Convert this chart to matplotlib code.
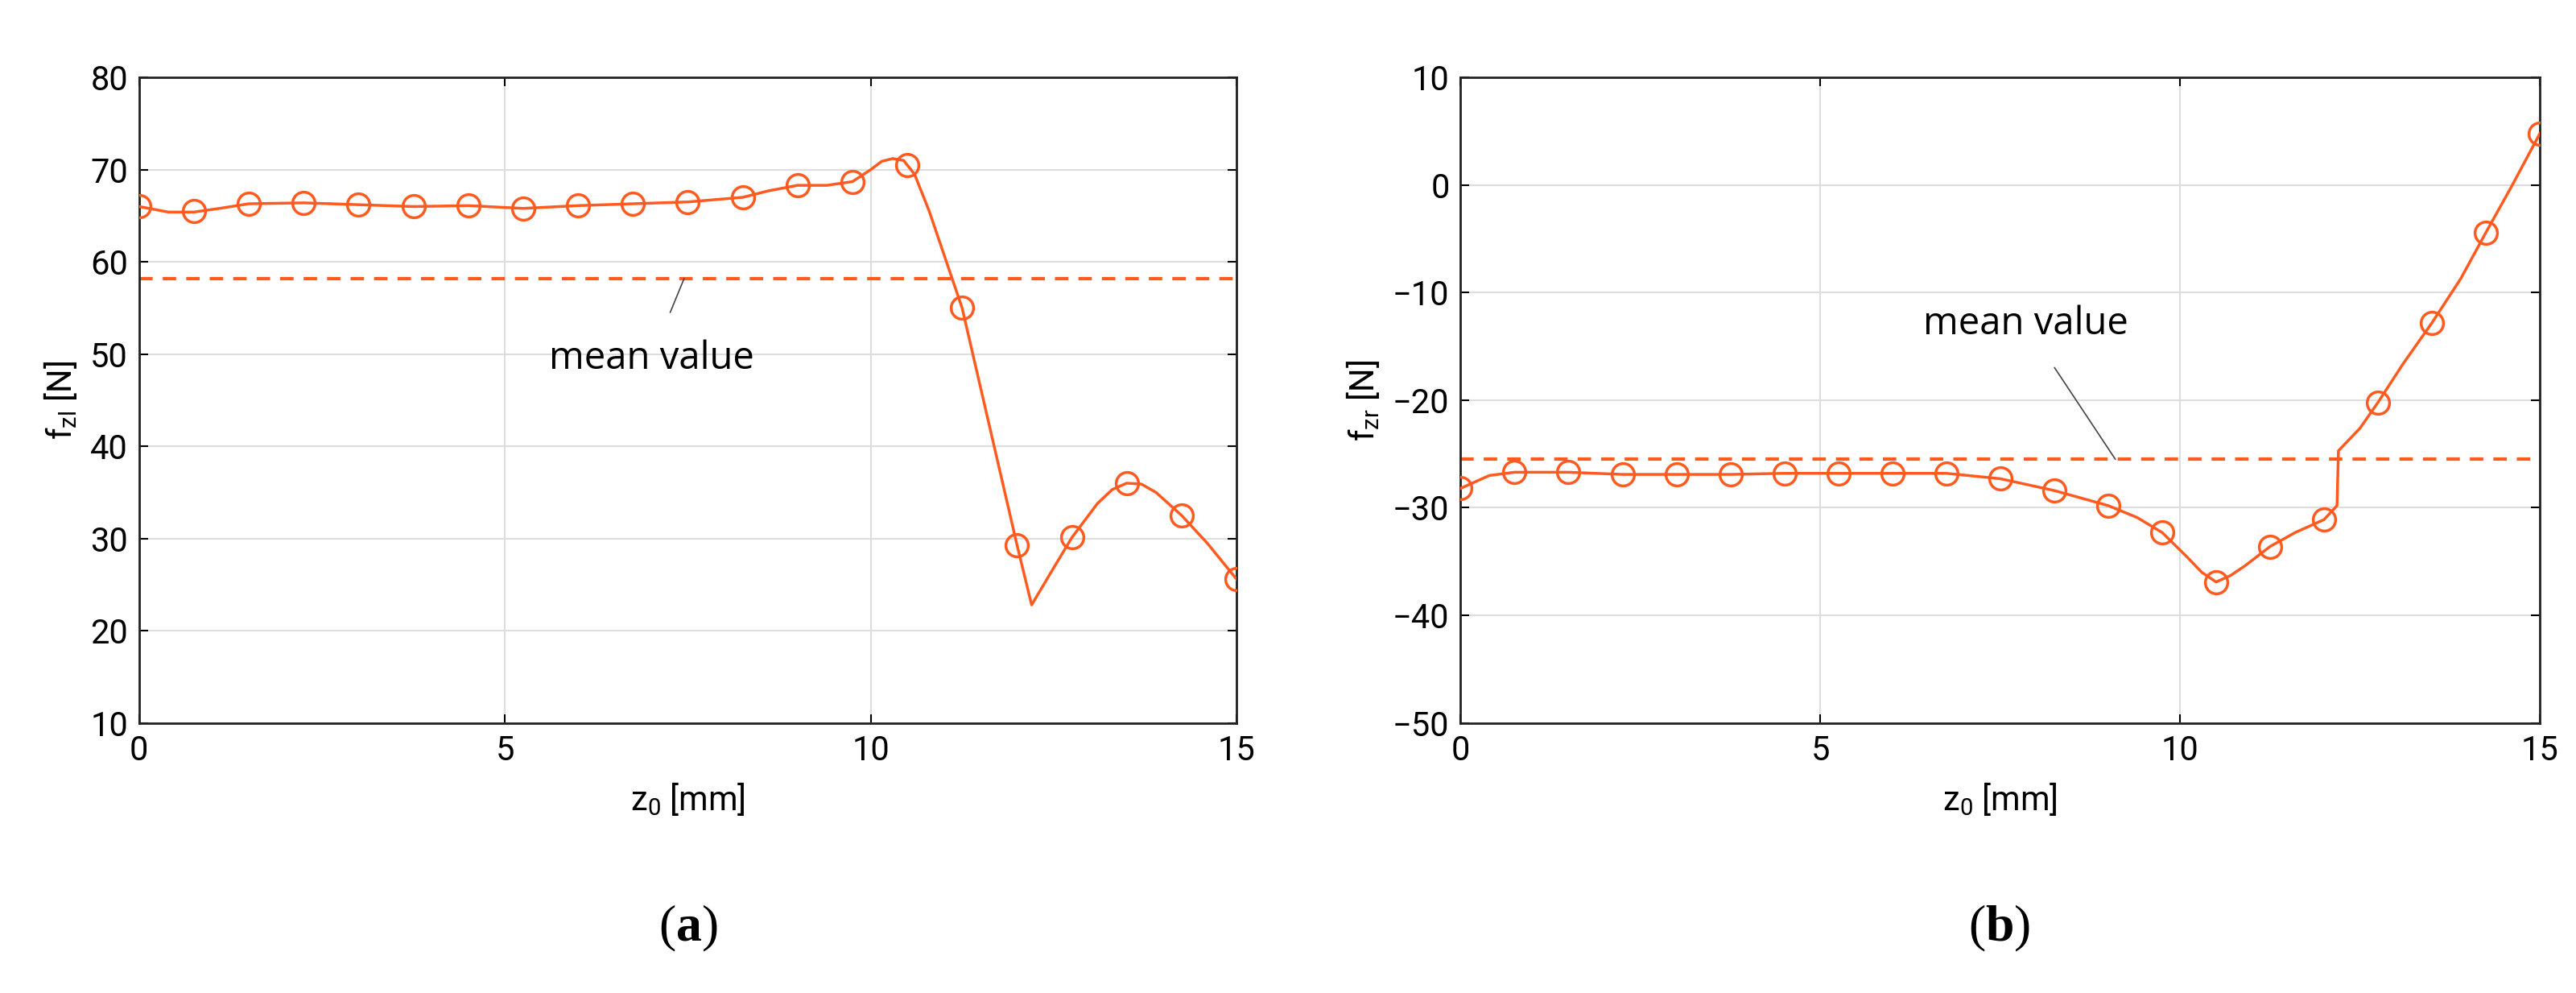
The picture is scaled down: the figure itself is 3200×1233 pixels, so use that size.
import matplotlib
matplotlib.use("Agg")
import matplotlib.pyplot as plt

z = [0, 0.75, 1.5, 2.25, 3, 3.75, 4.5, 5.25, 6, 6.75, 7.5, 8.25, 9, 9.75, 10.5, 11.25, 12, 12.75, 13.5, 14.25, 15]
fzl = [66, 65.5, 66.3, 66.4, 66.2, 66, 66.1, 65.8, 66.1, 66.3, 66.5, 67, 68.3, 68.7, 70.5, 55, 29.3, 30.1, 36, 32.5, 25.6]
fzr = [-28.2, -26.7, -26.7, -26.9, -26.9, -26.9, -26.8, -26.8, -26.8, -26.8, -27.3, -28.4, -29.8, -32.3, -36.9, -33.6, -31.1, -20.2, -12.8, -4.4, 4.8]
# curve
cl_x = [0, 0.4, 0.75, 1.1, 1.5, 2.25, 3, 3.75, 4.5, 5.25, 6, 6.75, 7.5, 8.25, 8.6, 9, 9.4, 9.75, 10.0, 10.15, 10.3, 10.45, 10.6, 10.8, 11.25, 11.6, 12.0, 12.2, 12.5, 12.75, 13.1, 13.3, 13.5, 13.7, 13.9, 14.25, 14.6, 15]
cl_y = [66, 65.4, 65.4, 65.8, 66.3, 66.4, 66.2, 66, 66.1, 65.8, 66.1, 66.3, 66.5, 67, 67.7, 68.3, 68.3, 68.7, 70.0, 70.9, 71.2, 71.0, 69.5, 65.5, 55, 43, 29.3, 22.8, 26.8, 30.1, 33.8, 35.3, 36, 35.9, 35.0, 32.5, 29.5, 25.6]
cr_x = [0, 0.4, 0.75, 1.5, 2.25, 3, 3.75, 4.5, 5.25, 6, 6.75, 7.5, 8.25, 9, 9.4, 9.75, 10.1, 10.3, 10.5, 10.7, 10.9, 11.25, 11.6, 12.0, 12.18, 12.2, 12.5, 12.75, 13.1, 13.5, 13.9, 14.25, 14.6, 15]
cr_y = [-28.2, -27.0, -26.7, -26.7, -26.9, -26.9, -26.9, -26.8, -26.8, -26.8, -26.8, -27.3, -28.4, -29.8, -30.9, -32.3, -34.6, -36.0, -36.9, -36.3, -35.4, -33.6, -32.3, -31.1, -29.8, -24.7, -22.6, -20.2, -16.6, -12.8, -8.7, -4.4, -0.2, 4.8]
mean_l = 58.2
mean_r = -25.5

C = "#FF5A1F"
plt.rcParams['font.family'] = ['Liberation Sans Narrow', 'Roboto', 'DejaVu Sans']
plt.rcParams['mathtext.fontset'] = 'custom'
plt.rcParams['mathtext.rm'] = 'Roboto'
plt.rcParams['mathtext.it'] = 'Roboto'
plt.rcParams['mathtext.bf'] = 'Liberation Serif:bold'
fig = plt.figure(figsize=(32, 12.33), dpi=100)
axa = fig.add_axes([0.054, 0.272, 0.426, 0.65])
axb = fig.add_axes([0.567, 0.272, 0.419, 0.65])

def style(ax, ylim, yticks):
    ax.set_xlim(0, 15)
    ax.set_ylim(*ylim)
    ax.set_xticks([0, 5, 10, 15])
    ax.set_yticks(yticks)
    ax.grid(True, color="#DDDDDD", lw=1.5)
    ax.set_axisbelow(True)
    ax.tick_params(labelsize=30, direction="in", length=8, width=1.5, top=True, right=True, labeltop=False, labelright=False, pad=10)
    for s in ax.spines.values():
        s.set_linewidth(2)
        s.set_color("#222222")
    ax.set_xlabel(r"z$_\mathrm{0}$ [mm]", fontsize=30, labelpad=12)

for ax, cx, cy, y, m in [(axa, cl_x, cl_y, fzl, mean_l), (axb, cr_x, cr_y, fzr, mean_r)]:
    ax.plot(cx, cy, color=C, lw=2.5, zorder=3)
    ax.plot(z, y, 'o', mfc='none', mec=C, ms=20, mew=2.5, zorder=4)
    ax.axhline(m, color=C, lw=3, ls=(0, (4, 3)), zorder=2)

style(axa, (10, 80), range(10, 81, 10))
style(axb, (-50, 10), range(-50, 11, 10))
axa.set_ylabel(r"f$_\mathrm{zl}$ [N]", fontsize=30, labelpad=10)
axb.set_ylabel(r"f$_\mathrm{zr}$ [N]", fontsize=30, labelpad=10)

axa.annotate("mean value", xy=(7.45, mean_l), xytext=(7.0, 49.5), ha='center', va='center',
             fontsize=34, family=['Open Sans', 'DejaVu Sans'],
             arrowprops=dict(arrowstyle='-', color='#444444', lw=1.2, shrinkA=24, shrinkB=0))
axb.annotate("mean value", xy=(9.1, mean_r), xytext=(7.85, -12.9), ha='center', va='center',
             fontsize=34, family=['Open Sans', 'DejaVu Sans'],
             arrowprops=dict(arrowstyle='-', color='#444444', lw=1.2, shrinkA=24, shrinkB=0))

fig.text(0.267, 0.065, r"($\mathbf{a}$)", fontsize=46, family='Liberation Serif', ha='center', va='center')
fig.text(0.776, 0.065, r"($\mathbf{b}$)", fontsize=46, family='Liberation Serif', ha='center', va='center')
fig.savefig("out.png", dpi=100, facecolor='white')
